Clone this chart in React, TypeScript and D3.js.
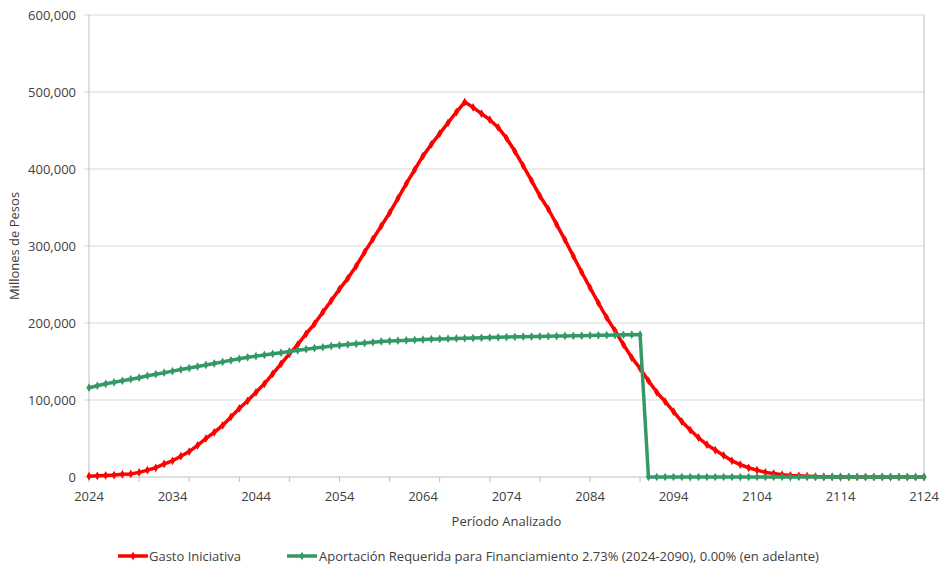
import React from "react";
import * as d3 from "d3";

const years: number[] = d3.range(2024, 2125);

// Gasto Iniciativa (thousands of millones de pesos)
const gastoIniciativa: number[] = [
  1, 1.5, 2, 2.5, 3.5, 4, 6, 9, 12, 17,
  21, 27, 33, 41, 50, 58, 67, 78, 89, 99,
  110, 121, 134, 147, 160, 172, 186, 199, 214, 229,
  244, 258, 274, 292, 309, 326, 343, 362, 381, 399,
  417, 432, 446, 460, 474, 487, 480, 472, 464, 454,
  440, 423, 404, 385, 365, 348, 328, 308, 287, 266,
  246, 226, 207, 190, 172, 155, 141, 125, 110, 98,
  85, 72, 61, 51, 42, 35, 28, 21, 16, 12,
  9, 6, 4.5, 3, 2, 1.5, 1, 0.5, 0.3, 0.2,
  0.1, 0, 0, 0, 0, 0, 0, 0, 0, 0,
  0,
];

// Aportación Requerida (thousands of millones de pesos)
const aportacion: number[] = [
  116, 118.5, 121, 123, 125, 127, 129, 131.5, 133.5, 135.5,
  137.5, 139.5, 141.5, 143.5, 145.5, 147.5, 149.5, 151.5, 153.5, 155.5,
  157, 158.5, 160, 161.5, 163, 164.5, 166, 167.5, 168.5, 170,
  171, 172, 173, 174, 175, 176, 176.5, 177, 177.5, 178,
  178.5, 179, 179.3, 179.6, 179.9, 180.2, 180.5, 180.8, 181.1, 181.4,
  181.7, 182, 182.2, 182.4, 182.6, 182.8, 183, 183.2, 183.4, 183.6,
  183.8, 184, 184.2, 184.4, 184.6, 184.8, 185, 0, 0, 0,
  0, 0, 0, 0, 0, 0, 0, 0, 0, 0,
  0, 0, 0, 0, 0, 0, 0, 0, 0, 0,
  0, 0, 0, 0, 0, 0, 0, 0, 0, 0,
  0,
];

const yTicks: number[] = [0, 100000, 200000, 300000, 400000, 500000, 600000];
const xLabels: number[] = [2024, 2034, 2044, 2054, 2064, 2074, 2084, 2094, 2104, 2114, 2124];
const xTickMarks: number[] = d3.range(2024, 2125, 6);

const seriesNames = [
  "Gasto Iniciativa",
  "Aportación Requerida para Financiamiento 2.73% (2024-2090), 0.00% (en adelante)",
];
const colors = ["#FF0000", "#339966"];

const W = 941;
const H = 566;
const left = 89;
const right = 924;
const top = 15;
const bottom = 477;
const legendY = 556;
const FONT = "'Open Sans', 'Noto Sans', sans-serif";
const TXT = "#404040";

export default function App() {
  const x = d3.scaleLinear().domain([2024, 2124]).range([left, right]);
  const y = d3.scaleLinear().domain([0, 600000]).range([bottom, top]);
  const fmt = d3.format(",");

  const series = [gastoIniciativa, aportacion].map((arr) =>
    arr.map((v, i) => ({ year: years[i], value: v * 1000 }))
  );

  const line = d3
    .line<{ year: number; value: number }>()
    .x((d) => x(d.year))
    .y((d) => y(d.value));

  const marker = d3.symbol().type(d3.symbolDiamond).size(22)() as string;

  const legendItems = [
    { x0: 118, tx: 149 },
    { x0: 287, tx: 319 },
  ];

  return (
    <svg
      width={W}
      height={H}
      style={{ position: "absolute", left: 0, top: 0, background: "#fff" }}
      fontFamily={FONT}
    >
      {yTicks.map((t) => (
        <line
          key={"g" + t}
          x1={left - 5}
          x2={right}
          y1={y(t)}
          y2={y(t)}
          stroke={t === 0 ? "#bfbfbf" : "#d9d9d9"}
          strokeWidth={1}
        />
      ))}
      <line x1={left} x2={left} y1={top} y2={bottom} stroke="#bfbfbf" />
      <line x1={right} x2={right} y1={top} y2={bottom} stroke="#bfbfbf" />
      {xTickMarks.map((t) => (
        <line
          key={"xt" + t}
          x1={x(t)}
          x2={x(t)}
          y1={bottom}
          y2={bottom + 5}
          stroke="#bfbfbf"
        />
      ))}
      {yTicks.map((t) => (
        <text
          key={"yl" + t}
          x={left - 13}
          y={y(t)}
          dy="0.35em"
          textAnchor="end"
          fontSize={13}
          fill={TXT}
        >
          {fmt(t)}
        </text>
      ))}
      {xLabels.map((t) => (
        <text
          key={"xl" + t}
          x={x(t)}
          y={bottom + 24}
          textAnchor="middle"
          fontSize={13}
          fill={TXT}
        >
          {t}
        </text>
      ))}
      <text
        x={(left + right) / 2}
        y={526}
        textAnchor="middle"
        fontSize={13}
        fill={TXT}
      >
        Período Analizado
      </text>
      <text
        transform={`translate(19,${(top + bottom) / 2}) rotate(-90)`}
        textAnchor="middle"
        fontSize={13}
        fill={TXT}
      >
        Millones de Pesos
      </text>

      {series.map((s, si) => (
        <g key={"s" + si}>
          <path
            d={line(s) as string}
            fill="none"
            stroke={colors[si]}
            strokeWidth={3.5}
            strokeLinejoin="round"
          />
          {s.map((d, i) => (
            <path
              key={i}
              d={marker}
              transform={`translate(${x(d.year)},${y(d.value)})`}
              fill={colors[si]}
            />
          ))}
        </g>
      ))}

      {legendItems.map((it, i) => (
        <g key={"lg" + i}>
          <line
            x1={it.x0}
            x2={it.x0 + 30}
            y1={legendY}
            y2={legendY}
            stroke={colors[i]}
            strokeWidth={3.5}
          />
          <path
            d={marker}
            transform={`translate(${it.x0 + 15},${legendY})`}
            fill={colors[i]}
          />
          <text x={it.tx} y={legendY} dy="0.35em" fontSize={13} fill={TXT}>
            {seriesNames[i]}
          </text>
        </g>
      ))}
    </svg>
  );
}
